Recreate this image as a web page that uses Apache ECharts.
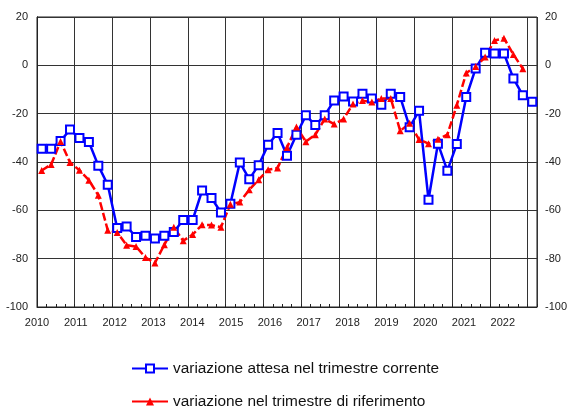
<!DOCTYPE html>
<html>
<head>
<meta charset="utf-8">
<script src="https://cdn.jsdelivr.net/npm/echarts@6/dist/echarts.min.js"></script>
<style>
  html, body { margin: 0; padding: 0; background: #fff; }
  #chart { width: 570px; height: 408px; }
</style>
</head>
<body>
<div id="chart"></div>
<script>
// quarterly series, 2010 Q1 .. 2023 Q1
const yearLabels = ['2010', '2011', '2012', '2013', '2014', '2015', '2016', '2017', '2018', '2019', '2020', '2021', '2022']
const nameCurrent = 'variazione attesa nel trimestre corrente'
const nameReference = 'variazione nel trimestre di riferimento'
const currentQuarter = [
  -34.5, -34.5, -31.3, -26.6, -30.1, -31.7, -41.5, -49.4,
  -67.3, -66.7, -71.0, -70.5, -71.7, -70.5, -69.0, -64.0,
  -64.0, -51.8, -54.9, -60.9, -57.3, -40.2, -47.1, -41.3,
  -32.9, -28.0, -37.4, -28.7, -20.7, -24.7, -20.7, -14.5,
  -12.9, -15.0, -11.8, -13.7, -16.3, -11.8, -13.1, -25.6,
  -18.8, -55.6, -32.4, -43.6, -32.6, -13.1, -1.3, 5.2,
  4.9, 4.9, -5.4, -12.4, -15.1
]
const referenceQuarter = [
  -43.5, -41.0, -31.5, -40.2, -43.4, -47.5, -53.8, -68.2,
  -69.2, -74.4, -75.0, -79.5, -81.8, -74.2, -67.0, -72.6,
  -70.0, -66.0, -66.1, -67.0, -57.5, -56.6, -51.5, -47.3,
  -43.2, -42.5, -34.0, -25.5, -31.6, -28.7, -22.2, -24.3,
  -22.2, -16.0, -14.6, -15.2, -13.7, -13.7, -27.1, -24.0,
  -30.7, -32.4, -30.6, -28.7, -16.5, -3.2, -0.5, 3.4,
  10.3, 11.2, 4.5, -1.4
]

const toPoints = arr => arr.map((v, i) => [i + 0.5, v])
const font = 'Liberation Sans, Arial, sans-serif'
const legendText = { fontSize: 15.4, color: '#111', fontFamily: font }

const chart = echarts.init(document.getElementById('chart'))
chart.setOption({
  animation: false,
  backgroundColor: '#fff',
  grid: {
    left: 37,
    right: 28,
    top: 17,
    bottom: 101,
    show: true,
    borderColor: '#222',
    borderWidth: 1
  },
  // one legend per row, stacked
  legend: [{
    left: 131,
    top: 361,
    padding: 0,
    itemWidth: 36,
    itemHeight: 10,
    textStyle: legendText,
    data: [nameCurrent]
  }, {
    left: 131,
    top: 394,
    padding: 0,
    itemWidth: 36,
    itemHeight: 10,
    lineStyle: { type: 'solid' },
    textStyle: legendText,
    data: [nameReference]
  }],
  xAxis: [{
    type: 'value',
    min: 0,
    max: 53,
    interval: 4,
    axisLine: { show: true, onZero: false, lineStyle: { color: '#222' } },
    axisTick: { show: true, inside: true, length: 3, lineStyle: { color: '#222' } },
    minorTick: { show: true, splitNumber: 4, length: 3, lineStyle: { color: '#222' } },
    axisLabel: { show: false },
    splitLine: { show: true, lineStyle: { color: '#333', width: 1 } }
  }, {
    // year labels sit on their own scale, as in the original
    type: 'value',
    position: 'bottom',
    min: 0,
    max: 12.88,
    interval: 1,
    axisLine: { show: false, onZero: false },
    axisTick: { show: false },
    splitLine: { show: false },
    axisLabel: {
      margin: 10,
      fontSize: 11,
      color: '#222',
      fontFamily: font,
      showMaxLabel: false,
      formatter: v => yearLabels[v] || ''
    }
  }],
  yAxis: [{
    type: 'value',
    position: 'left',
    min: -100,
    max: 20,
    interval: 20,
    axisLine: { show: true, lineStyle: { color: '#222' } },
    axisTick: { show: false },
    axisLabel: { margin: 9, fontSize: 11, color: '#222', fontFamily: font },
    splitLine: { show: true, lineStyle: { color: '#333', width: 1 } }
  }, {
    type: 'value',
    position: 'right',
    min: -100,
    max: 20,
    interval: 20,
    axisLine: { show: true, lineStyle: { color: '#222' } },
    axisTick: { show: false },
    axisLabel: { margin: 8, fontSize: 11, color: '#222', fontFamily: font },
    splitLine: { show: false }
  }],
  series: [{
    name: nameCurrent,
    type: 'line',
    xAxisIndex: 0,
    yAxisIndex: 0,
    data: toPoints(currentQuarter),
    symbol: 'emptyRect',
    symbolSize: 8,
    showAllSymbol: true,
    color: '#0000ff',
    itemStyle: { color: '#0000ff', borderWidth: 2 },
    lineStyle: { color: '#0000ff', width: 2.5 }
  }, {
    name: nameReference,
    type: 'line',
    xAxisIndex: 0,
    yAxisIndex: 0,
    data: toPoints(referenceQuarter),
    symbol: 'triangle',
    symbolSize: 7,
    showAllSymbol: true,
    color: '#ff0000',
    itemStyle: { color: '#ff0000' },
    lineStyle: { color: '#ff0000', width: 2.5, type: [8, 3] }
  }]
})
</script>
</body>
</html>
